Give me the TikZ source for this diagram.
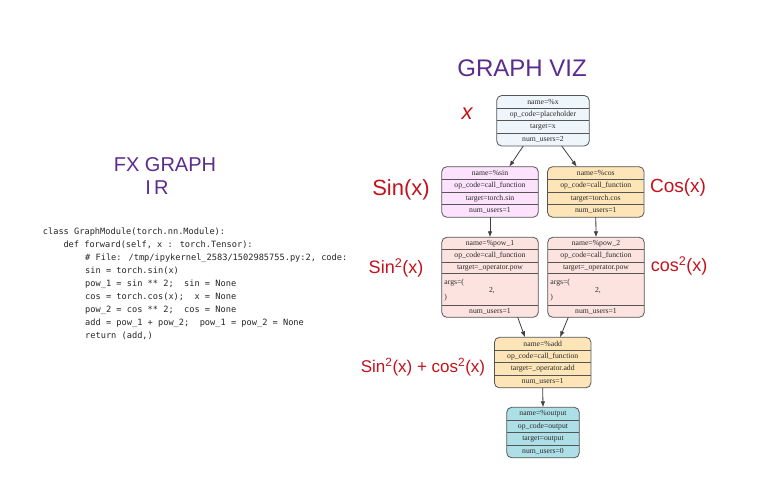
\documentclass[tikz,border=0pt]{standalone}
\usepackage{fontspec}
\setmainfont{Liberation Serif}
\newfontfamily\codefont{DejaVu Sans Mono}
\newfontfamily\handfont{Liberation Sans}
\usetikzlibrary{arrows.meta}
\definecolor{cblue}{HTML}{EEF6FC}
\definecolor{cthistle}{HTML}{FCE2FC}
\definecolor{cwheat}{HTML}{FDE5B8}
\definecolor{crose}{HTML}{FCE3E0}
\definecolor{cpowder}{HTML}{ADDFE6}
\definecolor{cpurple}{HTML}{5B2C8E}
\definecolor{cred}{HTML}{C4121C}
\definecolor{cborder}{HTML}{555555}
\definecolor{ctext}{HTML}{2A2A2A}
\tikzset{
  fxrec/.style={draw=cborder, line width=0.8pt, rounded corners=5pt, inner sep=0pt, outer sep=0pt},
  fxdiv/.style={draw=cborder, line width=0.7pt},
  fxtxt/.style={inner sep=0pt, font=\fontsize{7.7}{8}\selectfont, text=ctext},
  fxedge/.style={draw=black!75, line width=0.8pt, -{Latex[length=6pt,width=4.5pt]}},
  code/.style={inner sep=0pt, anchor=west, font=\codefont\fontsize{8.65}{10}\selectfont, text=black!85},
  purplehand/.style={inner sep=0pt, text=cpurple, font=\handfont\fontsize{22}{24}\selectfont},
  redhand/.style={inner sep=0pt, text=cred, font=\handfont\fontsize{18}{20}\selectfont}
}
\newcommand{\fxbox}[9]{%
  \node[fxrec, fill=#5, minimum width=#4pt, minimum height=50.5pt, anchor=north] (#1) at (#2,#3) {};
  \draw[fxdiv] ([yshift=-12.6pt]#1.north west) -- ([yshift=-12.6pt]#1.north east);
  \draw[fxdiv] ([yshift=-25.2pt]#1.north west) -- ([yshift=-25.2pt]#1.north east);
  \draw[fxdiv] ([yshift=-37.8pt]#1.north west) -- ([yshift=-37.8pt]#1.north east);
  \node[fxtxt] (#1-a) at ([yshift=-6.3pt]#1.north) {#6};
  \node[fxtxt] (#1-b) at ([yshift=-18.9pt]#1.north) {#7};
  \node[fxtxt] (#1-c) at ([yshift=-31.5pt]#1.north) {#8};
  \node[fxtxt] (#1-d) at ([yshift=-44.1pt]#1.north) {#9};
}
\newcommand{\powbox}[5]{%
  \node[fxrec, fill=crose, minimum width=96.5pt, minimum height=80pt, anchor=north] (#1) at (#2,#3) {};
  \draw[fxdiv] ([yshift=-12.3pt]#1.north west) -- ([yshift=-12.3pt]#1.north east);
  \draw[fxdiv] ([yshift=-24.6pt]#1.north west) -- ([yshift=-24.6pt]#1.north east);
  \draw[fxdiv] ([yshift=-36.3pt]#1.north west) -- ([yshift=-36.3pt]#1.north east);
  \draw[fxdiv] ([yshift=-67.6pt]#1.north west) -- ([yshift=-67.6pt]#1.north east);
  \node[fxtxt] (#1-a) at ([yshift=-6.2pt]#1.north) {#4};
  \node[fxtxt] (#1-b) at ([yshift=-18.5pt]#1.north) {op\_code=call\_function};
  \node[fxtxt] (#1-c) at ([yshift=-30.4pt]#1.north) {#5};
  \node[fxtxt, anchor=west] (#1-d) at ([xshift=2.5pt,yshift=-45.6pt]#1.north west) {args=(};
  \node[fxtxt] (#1-e) at ([xshift=2pt,yshift=-53pt]#1.north) {2,};
  \node[fxtxt, anchor=west] (#1-f) at ([xshift=2.5pt,yshift=-60.5pt]#1.north west) {)};
  \node[fxtxt] (#1-g) at ([yshift=-73.8pt]#1.north) {num\_users=1};
}
\begin{document}
\begin{tikzpicture}[x=1pt,y=-1pt]
\useasboundingbox[fill=white] (0,0) rectangle (760,484);

% handwritten titles
\node[purplehand, font=\handfont\fontsize{24}{26}\selectfont] (tgv) at (522,68) {GRAPH VIZ};
\node[purplehand, font=\handfont\fontsize{20}{22}\selectfont] (tfx) at (165,165) {FX GRAPH};
\node[purplehand, font=\handfont\fontsize{20}{22}\selectfont] (tir) at (157,188) {I\,R};

% code
\node[code] (c1) at (42.7,232) {class GraphModule(torch.nn.Module):};
\node[code] (c2) at (63.3,245) {def forward(self, x : torch.Tensor):};
\node[code] (c3) at (85,258) {\# File: /tmp/ipykernel\_2583/1502985755.py:2, code:};
\node[code] (c4) at (85,271) {sin = torch.sin(x)};
\node[code] (c5) at (85,284) {pow\_1 = sin ** 2;\ \ sin = None};
\node[code] (c6) at (85,297) {cos = torch.cos(x);\ \ x = None};
\node[code] (c7) at (85,310) {pow\_2 = cos ** 2;\ \ cos = None};
\node[code] (c8) at (85,323) {add = pow\_1 + pow\_2;\ \ pow\_1 = pow\_2 = None};
\node[code] (c9) at (85,336) {return (add,)};

% graph nodes
\fxbox{nx}{543}{95.5}{92.5}{cblue}{name=\%x}{op\_code=placeholder}{target=x}{num\_users=2}
\fxbox{nsin}{490}{166.7}{96.5}{cthistle}{name=\%sin}{op\_code=call\_function}{target=torch.sin}{num\_users=1}
\fxbox{ncos}{595.8}{166.7}{96.5}{cwheat}{name=\%cos}{op\_code=call\_function}{target=torch.cos}{num\_users=1}
\powbox{npowa}{490}{237.3}{name=\%pow\_1}{target=\_operator.pow}
\powbox{npowb}{596}{237.3}{name=\%pow\_2}{target=\_operator.pow}
\fxbox{nadd}{542.7}{337.3}{96.5}{cwheat}{name=\%add}{op\_code=call\_function}{target=\_operator.add}{num\_users=1}
\fxbox{nout}{543}{407.3}{72.5}{cpowder}{name=\%output}{op\_code=output}{target=output}{num\_users=0}

% edges
\draw[fxedge] ([xshift=-19.7pt]nx.south) -- ([xshift=19.3pt]nsin.north);
\draw[fxedge] ([xshift=18.7pt]nx.south) -- ([xshift=-19pt]ncos.north);
\draw[fxedge] (nsin.south) -- (npowa.north);
\draw[fxedge] (ncos.south) -- (npowb.north);
\draw[fxedge] ([xshift=27.7pt]npowa.south) -- ([xshift=-17.7pt]nadd.north);
\draw[fxedge] ([xshift=-27.7pt]npowb.south) -- ([xshift=17.3pt]nadd.north);
\draw[fxedge] (nadd.south) -- (nout.north);

% red handwritten annotations
\node[redhand, font=\handfont\itshape\fontsize{22}{24}\selectfont] (lx) at (467,114) {x};
\node[redhand, font=\handfont\fontsize{22}{24}\selectfont] (lsin) at (401,190) {Sin(x)};
\node[redhand, font=\handfont\fontsize{19}{21}\selectfont] (lcos) at (678,188) {Cos(x)};
\node[redhand] (lsin2) at (396,268) {Sin\textsuperscript{2}(x)};
\node[redhand] (lcos2) at (679,266) {cos\textsuperscript{2}(x)};
\node[redhand, font=\handfont\fontsize{17}{19}\selectfont] (lsum) at (423,367) {Sin\textsuperscript{2}(x) + cos\textsuperscript{2}(x)};
\end{tikzpicture}
\end{document}
